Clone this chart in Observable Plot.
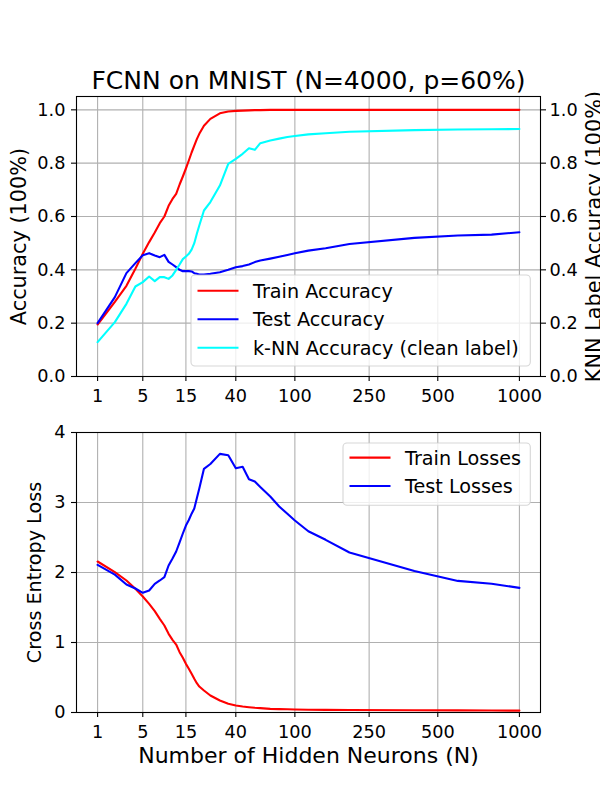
<!DOCTYPE html>
<html><head><meta charset="utf-8">
<script src="https://cdn.jsdelivr.net/npm/d3@7"></script>
<script src="https://cdn.jsdelivr.net/npm/@observablehq/plot@0.6"></script>
<style>
body{margin:0;background:#fff;font-family:"DejaVu Sans",sans-serif;}
#wrap{position:relative;width:600px;height:800px;overflow:hidden;background:#fff;}
#wrap svg{position:absolute;left:0;}
</style></head><body><div id="wrap"></div>
<script>
// ---- data ----
const neurons = [1,2,3,4,5,6,7,8,9,10,11,12,13,14,15,16,17,18,19,20,22,25,30,35,40,45,50,55,60,70,80,90,100,120,150,200,400,600,800,1000];
const trainAcc = [0.195,0.28,0.34,0.404,0.46,0.504,0.54,0.575,0.60,0.64,0.666,0.685,0.72,0.75,0.78,0.81,0.84,0.866,0.89,0.91,0.94,0.966,0.987,0.994,0.996,0.997,0.998,0.999,0.999,1.0,1.0,1.0,1.0,1.0,1.0,1.0,1.0,1.0,1.0,1.0];
const testAcc = [0.20,0.2975,0.3875,0.425,0.455,0.4625,0.454,0.4475,0.456,0.43,0.42,0.41,0.40,0.395,0.395,0.395,0.394,0.3875,0.385,0.3825,0.3825,0.385,0.391,0.40,0.41,0.414,0.42,0.429,0.435,0.442,0.449,0.456,0.462,0.472,0.481,0.497,0.52,0.529,0.532,0.541];
const knnAcc = [0.129,0.204,0.2725,0.3375,0.354,0.375,0.3575,0.3725,0.3725,0.366,0.379,0.40,0.42,0.44,0.45,0.46,0.476,0.50,0.535,0.566,0.6225,0.654,0.716,0.7975,0.816,0.835,0.856,0.85,0.875,0.885,0.892,0.898,0.902,0.908,0.912,0.918,0.924,0.926,0.927,0.928];
const trainLoss = [2.157,2.005,1.886,1.767,1.657,1.552,1.448,1.338,1.243,1.124,1.038,0.971,0.862,0.781,0.695,0.624,0.552,0.481,0.419,0.371,0.314,0.243,0.171,0.124,0.10,0.086,0.076,0.067,0.062,0.052,0.048,0.046,0.043,0.04,0.038,0.036,0.032,0.03,0.028,0.027];
const testLoss = [2.11,1.97,1.829,1.771,1.71,1.743,1.838,1.886,1.933,2.1,2.2,2.3,2.43,2.557,2.67,2.75,2.84,2.914,3.06,3.2,3.481,3.55,3.695,3.676,3.49,3.51,3.333,3.3,3.22,3.086,2.943,2.838,2.743,2.59,2.467,2.286,2.02,1.88,1.84,1.78];
const xTicks = [1,5,15,40,100,250,500,1000];
const accTicks = [0,0.2,0.4,0.6,0.8,1.0];
const lossTicks = [0,1,2,3,4];
const titleText = "FCNN on MNIST (N=4000, p=60%)";
const accLabel = "Accuracy (100%)";
const knnLabel = "KNN Label Accuracy (100%)";
const lossLabel = "Cross Entropy Loss";
const xLabel = "Number of Hidden Neurons (N)";
const accSeries = ["Train Accuracy","Test Accuracy","k-NN Accuracy (clean label)"];
const lossSeries = ["Train Losses","Test Losses"];
const RED = "#ff0000", BLUE = "#0000ff", CYAN = "#00ffff";

// matplotlib-like 5% margin in the x^(1/4) space
const ex = 0.25;
const [n0, n1] = d3.extent(neurons);
const t0 = Math.pow(n0, ex), t1 = Math.pow(n1, ex), pad = 0.05 * (t1 - t0);
const xDomain = [Math.pow(t0 - pad, 1/ex), Math.pow(t1 + pad, 1/ex)];

const gridStyle = {stroke:"#b0b0b0", strokeOpacity:1, strokeWidth:1.1};
const baseStyle = {fontFamily:"DejaVu Sans", fontSize:"17.7px", color:"#000", background:"transparent", overflow:"visible"};
const lw = 2.1;

const topPlot = Plot.plot({
  width:600, height:410, marginTop:96, marginBottom:34, marginLeft:76, marginRight:60,
  style: baseStyle,
  x:{type:"pow", exponent:ex, domain:xDomain},
  y:{domain:[0,1.05]},
  marks:[
    Plot.gridX(xTicks, gridStyle),
    Plot.gridY(accTicks, gridStyle),
    Plot.line(trainAcc, {x:neurons, y:Plot.identity, stroke:RED, strokeWidth:lw}),
    Plot.line(testAcc, {x:neurons, y:Plot.identity, stroke:BLUE, strokeWidth:lw}),
    Plot.line(knnAcc, {x:neurons, y:Plot.identity, stroke:CYAN, strokeWidth:lw}),
    Plot.frame({stroke:"#000", strokeWidth:1.1}),
    Plot.axisX(xTicks, {tickSize:5, tickPadding:8, label:null, tickFormat:d=>String(d), strokeWidth:1.1}),
    Plot.axisY(accTicks, {anchor:"left", tickSize:5, tickPadding:6, label:null, tickFormat:".1f", strokeWidth:1.1}),
    Plot.axisY(accTicks, {anchor:"right", tickSize:5, tickPadding:4, label:null, tickFormat:".1f", strokeWidth:1.1}),
    Plot.text([titleText], {text:Plot.identity, frameAnchor:"top", lineAnchor:"bottom", dy:-8, fontSize:25}),
    Plot.text([accLabel], {text:Plot.identity, frameAnchor:"left", textAnchor:"middle", rotate:-90, lineAnchor:"bottom", dx:-51, fontSize:20.8}),
    Plot.text([knnLabel], {text:Plot.identity, frameAnchor:"right", textAnchor:"middle", rotate:-90, lineAnchor:"bottom", dx:60, fontSize:20.8})
  ]
});
topPlot.style.top = "0px";

const botPlot = Plot.plot({
  width:600, height:390, marginTop:22, marginBottom:88, marginLeft:76, marginRight:60,
  style: baseStyle,
  x:{type:"pow", exponent:ex, domain:xDomain},
  y:{domain:[0,4]},
  marks:[
    Plot.gridX(xTicks, gridStyle),
    Plot.gridY(lossTicks, gridStyle),
    Plot.line(trainLoss, {x:neurons, y:Plot.identity, stroke:RED, strokeWidth:lw}),
    Plot.line(testLoss, {x:neurons, y:Plot.identity, stroke:BLUE, strokeWidth:lw}),
    Plot.frame({stroke:"#000", strokeWidth:1.1}),
    Plot.axisX(xTicks, {tickSize:5, tickPadding:8, label:null, tickFormat:d=>String(d), strokeWidth:1.1}),
    Plot.axisY(lossTicks, {anchor:"left", tickSize:5, tickPadding:6, label:null, tickFormat:d=>String(d), strokeWidth:1.1}),
    Plot.text([lossLabel], {text:Plot.identity, frameAnchor:"left", textAnchor:"middle", rotate:-90, lineAnchor:"bottom", dx:-36, fontSize:19.2}),
    Plot.text([xLabel], {text:Plot.identity, frameAnchor:"bottom", lineAnchor:"bottom", dy:50, fontSize:22})
  ]
});
botPlot.style.top = "410px";

const wrap = document.getElementById("wrap");
wrap.appendChild(topPlot);
wrap.appendChild(botPlot);

function addLegend(left, top, w, h, rows, labels, colors) {
  const svg = d3.select(wrap).append("svg")
    .attr("width", w + 4).attr("height", h + 4)
    .style("left", (left - 2) + "px").style("top", (top - 2) + "px");
  svg.append("rect").attr("x", 2).attr("y", 2).attr("width", w).attr("height", h).attr("rx", 4)
    .attr("fill", "white").attr("fill-opacity", 0.8)
    .attr("stroke", "#cccccc").attr("stroke-opacity", 0.8).attr("stroke-width", 1.1);
  labels.forEach((lab, i) => {
    const cy = rows[i] + 2;
    svg.append("line").attr("x1", 8.5).attr("x2", 49.5).attr("y1", cy).attr("y2", cy)
      .attr("stroke", colors[i]).attr("stroke-width", lw);
    svg.append("text").attr("x", 64).attr("y", cy + 7)
      .attr("font-family", "DejaVu Sans").attr("font-size", "19.2px").attr("fill", "#000")
      .text(lab);
  });
}
addLegend(190.7, 275, 339.3, 91, [15.7, 44.3, 72.7], accSeries, [RED, BLUE, CYAN]);
addLegend(342.7, 442.7, 187.3, 62.3, [14.6, 43], lossSeries, [RED, BLUE]);
</script>
</body></html>
